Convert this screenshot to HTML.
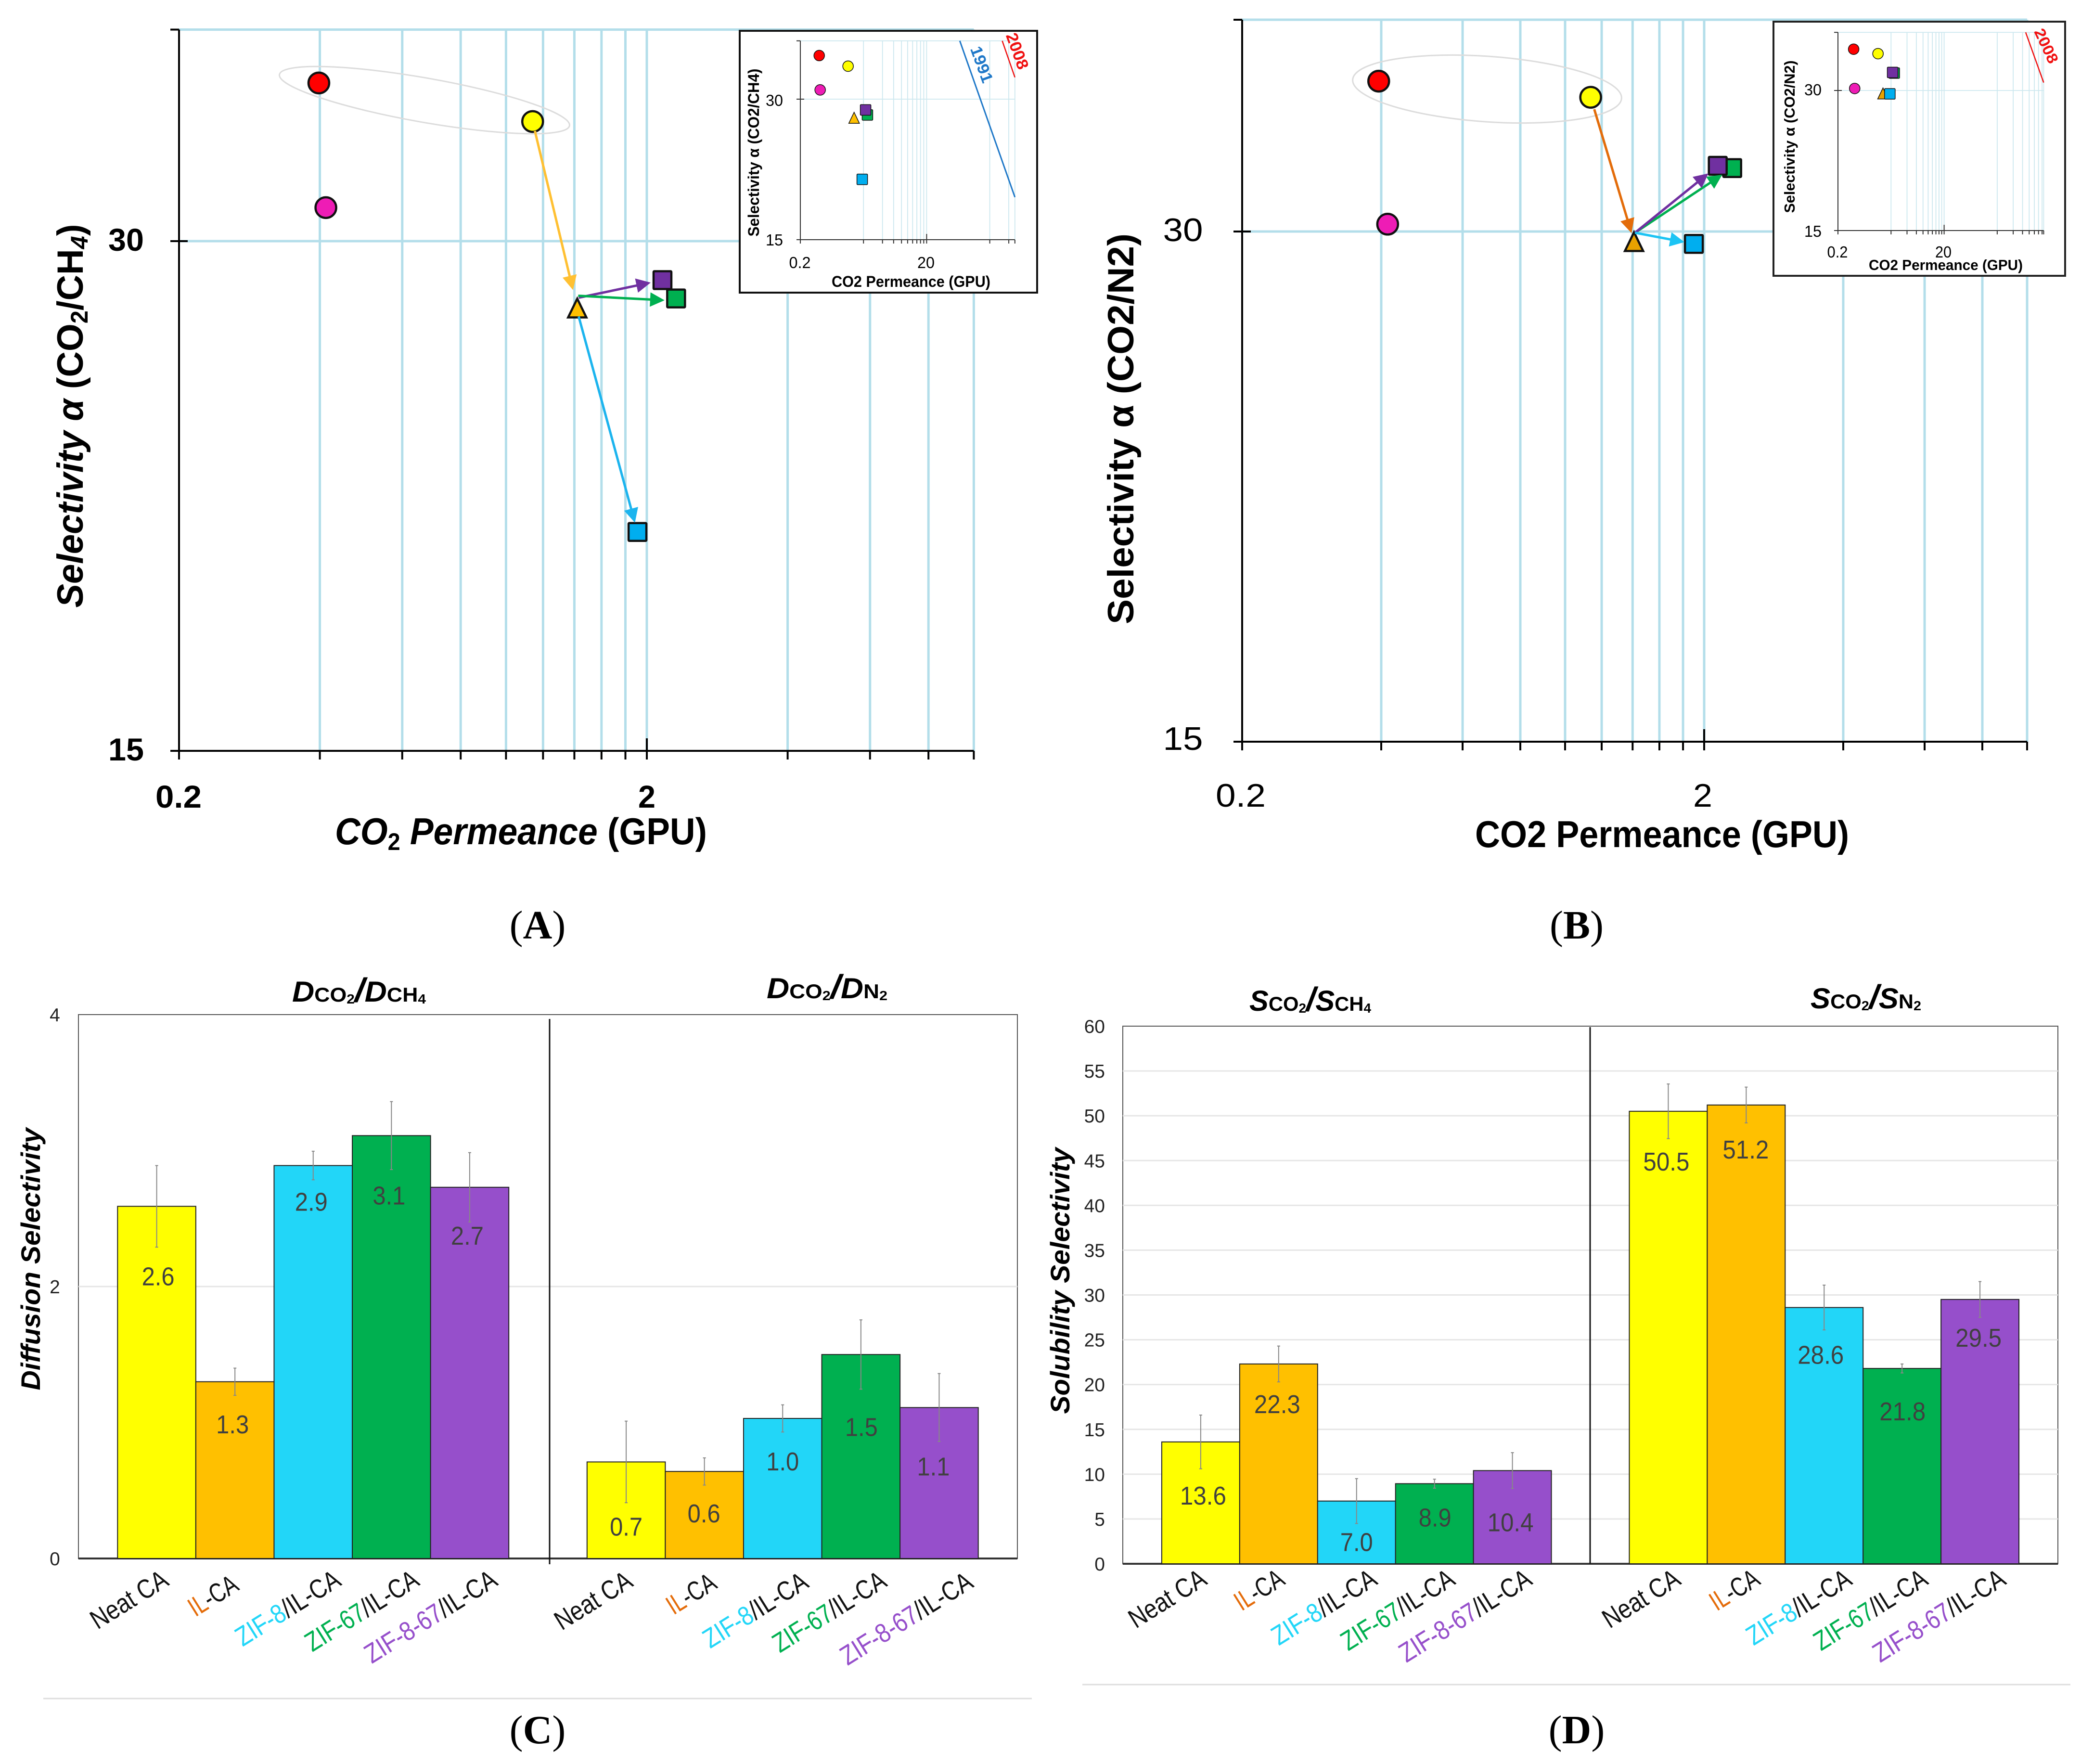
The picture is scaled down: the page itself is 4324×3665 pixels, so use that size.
<!DOCTYPE html>
<html lang="en">
<head>
<meta charset="utf-8">
<title>CO2 membrane selectivity charts</title>
<style>
html,body{margin:0;padding:0;background:#fff;width:4324px;height:3665px;overflow:hidden}
svg{display:block;font-family:"Liberation Sans",sans-serif}
.serif{font-family:"Liberation Serif",serif}
</style>
</head>
<body>
<svg id="fig" xmlns="http://www.w3.org/2000/svg" width="4324" height="3665" viewBox="0 0 4324 3665">
<rect width="4324" height="3665" fill="#fff"/>
<g id="mainA"></g>
<g id="mainB"></g>
<rect x="1537" y="64" width="618" height="544" fill="#fff" stroke="#111" stroke-width="4"/>
<rect x="3685" y="45" width="606" height="528" fill="#fff" stroke="#222" stroke-width="4"/>
<g id="insetA"></g>
<g id="insetB"></g>
<g id="barsC"></g>
<g id="barsD"></g>

<!-- Panel A text -->
<text transform="translate(172,864) rotate(-90)" text-anchor="middle" font-size="76" font-weight="bold" textLength="797" lengthAdjust="spacingAndGlyphs"><tspan font-style="italic">Selectivity α</tspan> (CO<tspan font-size="50" dy="10">2</tspan><tspan dy="-10">/CH</tspan><tspan font-size="50" font-style="italic" dy="10">4</tspan><tspan dy="-10">)</tspan></text>
<text x="696" y="1754" font-size="78" font-weight="bold" textLength="773" lengthAdjust="spacingAndGlyphs"><tspan font-style="italic">CO</tspan><tspan font-size="50" dy="12">2</tspan><tspan font-style="italic" dy="-12"> Permeance</tspan> (GPU)</text>
<text x="262" y="521" text-anchor="middle" font-size="66" font-weight="bold" textLength="74" lengthAdjust="spacingAndGlyphs">30</text>
<text x="262" y="1580" text-anchor="middle" font-size="66" font-weight="bold" textLength="74" lengthAdjust="spacingAndGlyphs">15</text>
<text x="371" y="1678" text-anchor="middle" font-size="66" font-weight="bold" textLength="96" lengthAdjust="spacingAndGlyphs">0.2</text>
<text x="1344" y="1678" text-anchor="middle" font-size="66" font-weight="bold" textLength="36" lengthAdjust="spacingAndGlyphs">2</text>
<text class="serif" x="1117" y="1950" text-anchor="middle" font-size="84">(<tspan font-weight="bold">A</tspan>)</text>

<!-- Panel B text -->
<text transform="translate(2355,891) rotate(-90)" text-anchor="middle" font-size="76" font-weight="bold" textLength="812" lengthAdjust="spacingAndGlyphs">Selectivity α (CO2/N2)</text>
<text x="3065" y="1760" font-size="78" font-weight="bold" textLength="777" lengthAdjust="spacingAndGlyphs">CO2 Permeance (GPU)</text>
<text x="2458" y="501" text-anchor="middle" font-size="68" textLength="83" lengthAdjust="spacingAndGlyphs">30</text>
<text x="2458" y="1558" text-anchor="middle" font-size="68" textLength="83" lengthAdjust="spacingAndGlyphs">15</text>
<text x="2578" y="1676" text-anchor="middle" font-size="68" textLength="104" lengthAdjust="spacingAndGlyphs">0.2</text>
<text x="3538" y="1676" text-anchor="middle" font-size="68" textLength="40" lengthAdjust="spacingAndGlyphs">2</text>
<text class="serif" x="3276" y="1950" text-anchor="middle" font-size="84">(<tspan font-weight="bold">B</tspan>)</text>

<!-- Inset A text -->
<text transform="translate(1577,317) rotate(-90)" text-anchor="middle" font-size="32" font-weight="bold" textLength="349" lengthAdjust="spacingAndGlyphs">Selectivity α (CO2/CH4)</text>
<text x="1728" y="596" font-size="32" font-weight="bold" textLength="330" lengthAdjust="spacingAndGlyphs">CO2 Permeance (GPU)</text>
<text x="1609" y="220" text-anchor="middle" font-size="33" textLength="36" lengthAdjust="spacingAndGlyphs">30</text>
<text x="1609" y="510" text-anchor="middle" font-size="33" textLength="36" lengthAdjust="spacingAndGlyphs">15</text>
<text x="1662" y="557" text-anchor="middle" font-size="33" textLength="45" lengthAdjust="spacingAndGlyphs">0.2</text>
<text x="1924" y="557" text-anchor="middle" font-size="33" textLength="36" lengthAdjust="spacingAndGlyphs">20</text>
<text transform="translate(2029,138) rotate(70)" text-anchor="middle" font-size="34" font-weight="bold" fill="#1f78c8" textLength="78" lengthAdjust="spacingAndGlyphs">1991</text>
<text transform="translate(2103,110) rotate(70)" text-anchor="middle" font-size="34" font-weight="bold" fill="#f01010" textLength="78" lengthAdjust="spacingAndGlyphs">2008</text>

<!-- Inset B text -->
<text transform="translate(3729,284) rotate(-90)" text-anchor="middle" font-size="31" font-weight="bold" textLength="317" lengthAdjust="spacingAndGlyphs">Selectivity α (CO2/N2)</text>
<text x="3883" y="561" font-size="31" font-weight="bold" textLength="320" lengthAdjust="spacingAndGlyphs">CO2 Permeance (GPU)</text>
<text x="3767" y="198" text-anchor="middle" font-size="33" textLength="36" lengthAdjust="spacingAndGlyphs">30</text>
<text x="3767" y="492" text-anchor="middle" font-size="33" textLength="36" lengthAdjust="spacingAndGlyphs">15</text>
<text x="3818" y="535" text-anchor="middle" font-size="33" textLength="43" lengthAdjust="spacingAndGlyphs">0.2</text>
<text x="4038" y="535" text-anchor="middle" font-size="33" textLength="34" lengthAdjust="spacingAndGlyphs">20</text>
<text transform="translate(4242,100) rotate(65)" text-anchor="middle" font-size="32" font-weight="bold" fill="#f01010" textLength="76" lengthAdjust="spacingAndGlyphs">2008</text>

<!-- Panel C text -->
<text transform="translate(83,2616) rotate(-90)" text-anchor="middle" font-size="56" font-weight="bold" font-style="italic" textLength="545" lengthAdjust="spacingAndGlyphs">Diffusion Selectivity</text>
<text x="607" y="2081" font-size="60" font-weight="bold" textLength="278" lengthAdjust="spacingAndGlyphs"><tspan font-style="italic">D</tspan><tspan font-size="42">CO</tspan><tspan font-size="28" dy="4">2</tspan><tspan font-style="italic" font-size="70" dy="-4">/</tspan><tspan font-style="italic">D</tspan><tspan font-size="42">CH</tspan><tspan font-size="28" dy="4">4</tspan></text>
<text x="1593" y="2074" font-size="60" font-weight="bold" textLength="251" lengthAdjust="spacingAndGlyphs"><tspan font-style="italic">D</tspan><tspan font-size="42">CO</tspan><tspan font-size="28" dy="4">2</tspan><tspan font-style="italic" font-size="70" dy="-4">/</tspan><tspan font-style="italic">D</tspan><tspan font-size="42">N</tspan><tspan font-size="28" dy="4">2</tspan></text>
<line x1="90" y1="3529" x2="2144" y2="3529" stroke="#dedede" stroke-width="3"/>
<text class="serif" x="1117" y="3622" text-anchor="middle" font-size="84">(<tspan font-weight="bold">C</tspan>)</text>

<!-- Panel D text -->
<text transform="translate(2222,2661) rotate(-90)" text-anchor="middle" font-size="56" font-weight="bold" font-style="italic" textLength="553" lengthAdjust="spacingAndGlyphs">Solubility Selectivity</text>
<text x="2596" y="2100" font-size="60" font-weight="bold" textLength="253" lengthAdjust="spacingAndGlyphs"><tspan font-style="italic">S</tspan><tspan font-size="42">CO</tspan><tspan font-size="28" dy="4">2</tspan><tspan font-style="italic" font-size="70" dy="-4">/</tspan><tspan font-style="italic">S</tspan><tspan font-size="42">CH</tspan><tspan font-size="28" dy="4">4</tspan></text>
<text x="3762" y="2095" font-size="60" font-weight="bold" textLength="230" lengthAdjust="spacingAndGlyphs"><tspan font-style="italic">S</tspan><tspan font-size="42">CO</tspan><tspan font-size="28" dy="4">2</tspan><tspan font-style="italic" font-size="70" dy="-4">/</tspan><tspan font-style="italic">S</tspan><tspan font-size="42">N</tspan><tspan font-size="28" dy="4">2</tspan></text>
<line x1="2249" y1="3500" x2="4302" y2="3500" stroke="#dedede" stroke-width="3"/>
<text class="serif" x="3276" y="3622" text-anchor="middle" font-size="84">(<tspan font-weight="bold">D</tspan>)</text>
</svg>

<script>
// ---------- Scatter data (order: neat red, neat yellow, neat magenta, IL-CA triangle, ZIF-8 blue, ZIF-67 green, ZIF-8-67 purple)
const pointNames = ['red', 'yellow', 'magenta', 'il-ca', 'zif-8', 'zif-67', 'zif-8-67'];
const permeanceCH4 = [0.398, 1.14, 0.412, 1.42, 1.91, 2.31, 2.16];
const selectivityCH4 = [37.2, 35.3, 31.4, 27.4, 20.2, 27.75, 28.45];
const permeanceN2 = [0.395, 1.136, 0.413, 1.41, 1.90, 2.30, 2.14];
const selectivityN2 = [36.8, 36.0, 30.3, 29.6, 29.5, 32.7, 32.8];
const mainGridX = [0.4, 0.6, 0.8, 1, 1.2, 1.4, 1.6, 1.8, 2, 4, 6, 8, 10];
const insetAGridX = [2, 4, 6, 8, 10, 12, 14, 16, 18, 20, 200, 400, 500];
const insetBGridX = [2, 4, 6, 8, 10, 12, 14, 16, 18, 20, 200, 400, 600, 800, 1000, 1200, 1400, 1500];
const gridY = [40, 30];
const line1991X = [67, 500];
const line1991Y = [40, 18.5];
const line2008AX = [315, 500];
const line2008AY = [40, 33.4];
const line2008BX = [687, 1500];
const line2008BY = [40, 31.2];

// ---------- Bar data
const categories = ['Neat CA', 'IL-CA', 'ZIF-8/IL-CA', 'ZIF-67/IL-CA', 'ZIF-8-67/IL-CA'];
const categoryPrefix = ['', 'IL', 'ZIF-8', 'ZIF-67', 'ZIF-8-67'];
const diffusionValues = [2.59, 1.30, 2.89, 3.11, 2.73, 0.71, 0.64, 1.03, 1.50, 1.11];
const diffusionErrors = [0.30, 0.10, 0.105, 0.25, 0.255, 0.30, 0.10, 0.10, 0.255, 0.25];
const diffusionTicks = [0, 2, 4];
const solubilityValues = [13.6, 22.3, 7.0, 8.94, 10.4, 50.5, 51.2, 28.6, 21.8, 29.5];
const solubilityErrors = [3.0, 2.0, 2.5, 0.5, 2.0, 3.05, 2.0, 2.5, 0.5, 2.0];
const solubilityTicks = [0, 5, 10, 15, 20, 25, 30, 35, 40, 45, 50, 55, 60];

// ---------- Layout / style
const NS = 'http://www.w3.org/2000/svg';
const BAR_FILL = ['#FFFF00', '#FFC000', '#22D6F8', '#00B050', '#964FCB'];
const CAT_COLOR = ['#111', '#E46C0A', '#22D6F8', '#00B050', '#964FCB'];
const CAT_LEN = [178, 110, 245, 266, 312];
const MARK_FILL_A = ['#FF0000', '#FFFF00', '#EE1CB5', '#FFC000', '#00AEEF', '#00B050', '#7030A0'];
const MARK_FILL_B = ['#FF0000', '#FFFF00', '#EE1CB5', '#E8A200', '#00AEEF', '#00B050', '#7030A0'];
const GRID = '#B3DEEA';

function mk(parent, tag, attrs) {
  const el = document.createElementNS(NS, tag);
  for (const k in attrs) el.setAttribute(k, attrs[k]);
  parent.appendChild(el);
  return el;
}
function scaleX(p, v) { return p.x02 + p.xDec * Math.log10(v / 0.2); }
function scaleY(p, v) { return p.y15 - p.yOct * Math.log2(v / 15); }

const mainAAxes = { x02: 372, xDec: 972, y15: 1560, yOct: 1059, xMax: 10, gridW: 5, tickLen: 18, axisW: 4, bigTick: 26, r: 21.5, sq: 37, mw: 4.5, tri: 19, axisCol: '#000', grid: GRID };
const mainBAxes = { x02: 2581, xDec: 960, y15: 1541, yOct: 1060, xMax: 10, gridW: 5, tickLen: 18, axisW: 4, bigTick: 26, r: 21.5, sq: 37, mw: 4.5, tri: 19, axisCol: '#000', grid: GRID };
const insetAAxes = { x02: 1663, xDec: 131.2, y15: 498, yOct: 292, xMax: 500, gridW: 1.8, tickLen: 8, axisW: 2, bigTick: 12, r: 11, sq: 22, mw: 1.5, tri: 11, axisCol: '#333', grid: '#CDE8EF' };
const insetBAxes = { x02: 3819, xDec: 110.3, y15: 479, yOct: 291, xMax: 1500, gridW: 1.8, tickLen: 8, axisW: 2, bigTick: 12, r: 11, sq: 22, mw: 1.5, tri: 11, axisCol: '#333', grid: '#CDE8EF' };

function drawFrame(root, p, gridX) {
  const left = scaleX(p, 0.2), right = scaleX(p, p.xMax), bottom = scaleY(p, 15);
  gridY.forEach(function (v) {
    const y = scaleY(p, v);
    const g = mk(root, 'line', { x1: left, x2: right, y1: y, y2: y, stroke: p.grid, 'stroke-width': p.gridW });
    
    
  });
  gridX.forEach(function (v) {
    const x = scaleX(p, v);
    const g = mk(root, 'line', { x1: x, x2: x, y1: scaleY(p, 40), y2: bottom, stroke: p.grid, 'stroke-width': p.gridW });
    
    
    const isMajor = v === 2 && p.xMax === 10 || v === 20 && p.xMax > 10;
    const t = mk(root, 'line', { x1: x, x2: x, y1: isMajor ? bottom - p.bigTick : bottom, y2: bottom + p.tickLen, stroke: p.axisCol, 'stroke-width': p.axisW });
    
    
  });
  const xa = mk(root, 'line', { x1: left - p.tickLen, x2: right, y1: bottom, y2: bottom, stroke: p.axisCol, 'stroke-width': p.axisW });
  
  
  const ya = mk(root, 'line', { x1: left, x2: left, y1: scaleY(p, 40), y2: bottom + p.tickLen, stroke: p.axisCol, 'stroke-width': p.axisW });
  
  
  const t40 = mk(root, 'line', { x1: left - p.tickLen, x2: left, y1: scaleY(p, 40), y2: scaleY(p, 40), stroke: p.axisCol, 'stroke-width': p.axisW });
  
  
  const t30 = mk(root, 'line', { x1: left - p.tickLen, x2: left + p.tickLen, y1: scaleY(p, 30), y2: scaleY(p, 30), stroke: p.axisCol, 'stroke-width': p.axisW });
  
  
}

function drawMarkers(root, p, xs, ys, fills) {
  [0, 1, 2, 3, 4, 5, 6].forEach(function (i) {
    const cx = scaleX(p, xs[i]), cy = scaleY(p, ys[i]);
    let el;
    if (i < 3) {
      el = mk(root, 'circle', { cx: cx, cy: cy, r: p.r });
    } else if (i === 3) {
      el = mk(root, 'polygon', { points: cx + ',' + (cy - p.tri) + ' ' + (cx + p.tri) + ',' + (cy + p.tri + 1) + ' ' + (cx - p.tri) + ',' + (cy + p.tri + 1) });
    } else {
      el = mk(root, 'rect', { x: cx - p.sq / 2, y: cy - p.sq / 2, width: p.sq, height: p.sq, rx: 1.5 });
    }
    el.setAttribute('fill', fills[i]);
    el.setAttribute('stroke', '#111');
    el.setAttribute('stroke-width', p.mw);
    
    
  });
}

function drawArrow(root, p, xs, ys, from, to, color, startOff, endOff, trimStart, trimEnd, name) {
  let x1 = scaleX(p, xs[from]) + startOff[0], y1 = scaleY(p, ys[from]) + startOff[1];
  const cx = scaleX(p, xs[to]) + endOff[0], cy = scaleY(p, ys[to]) + endOff[1];
  let dx = cx - x1, dy = cy - y1, d = Math.hypot(dx, dy);
  dx /= d; dy /= d;
  x1 += dx * trimStart; y1 += dy * trimStart;
  const x2 = cx - dx * trimEnd, y2 = cy - dy * trimEnd;
  const hl = 30, hw = 15;
  const g = mk(root, 'g', {});
  
  
  mk(g, 'line', { x1: x1, y1: y1, x2: x2 - dx * hl * 0.7, y2: y2 - dy * hl * 0.7, stroke: color, 'stroke-width': 5 });
  const bx = x2 - dx * hl, by = y2 - dy * hl;
  mk(g, 'polygon', { points: x2 + ',' + y2 + ' ' + (bx - dy * hw) + ',' + (by + dx * hw) + ' ' + (bx + dy * hw) + ',' + (by - dx * hw), fill: color });
}

function drawLimit(root, p, xs, ys, color, width, name) {
  const l = mk(root, 'line', { x1: scaleX(p, xs[0]), y1: scaleY(p, ys[0]), x2: scaleX(p, xs[1]), y2: scaleY(p, ys[1]), stroke: color, 'stroke-width': width });
  
  
}

// Panel A
(function () {
  const root = document.getElementById('mainA');
  drawFrame(root, mainAAxes, mainGridX);
  const e = mk(root, 'ellipse', { cx: 882, cy: 208, rx: 306, ry: 46, transform: 'rotate(10 882 208)', fill: 'none', stroke: '#dcdcdc', 'stroke-width': 3 });
  
  
  drawMarkers(root, mainAAxes, permeanceCH4, selectivityCH4, MARK_FILL_A);
  drawArrow(root, mainAAxes, permeanceCH4, selectivityCH4, 1, 3, '#FFC032', [0, 0], [0, 0], 20, 38, 'arrow-to-il-ca');
  drawArrow(root, mainAAxes, permeanceCH4, selectivityCH4, 3, 6, '#7030A0', [3, -21], [0, 0], 0, 25, 'arrow-to-zif-8-67');
  drawArrow(root, mainAAxes, permeanceCH4, selectivityCH4, 3, 5, '#00B050', [2, -25], [0, 5], 0, 24, 'arrow-to-zif-67');
  drawArrow(root, mainAAxes, permeanceCH4, selectivityCH4, 3, 4, '#1CB4EE', [3, 18], [0, 0], 0, 20, 'arrow-to-zif-8');
})();

// Panel B
(function () {
  const root = document.getElementById('mainB');
  drawFrame(root, mainBAxes, mainGridX);
  const e = mk(root, 'ellipse', { cx: 3090, cy: 185, rx: 280, ry: 68, transform: 'rotate(4 3090 185)', fill: 'none', stroke: '#dcdcdc', 'stroke-width': 3 });
  
  
  drawMarkers(root, mainBAxes, permeanceN2, selectivityN2, MARK_FILL_B);
  drawArrow(root, mainBAxes, permeanceN2, selectivityN2, 1, 3, '#E36C0A', [0, 0], [0, 0], 26, 18, 'arrow-to-il-ca');
  drawArrow(root, mainBAxes, permeanceN2, selectivityN2, 3, 5, '#00B050', [2, -18], [0, 0], 0, 25, 'arrow-to-zif-67');
  drawArrow(root, mainBAxes, permeanceN2, selectivityN2, 3, 6, '#7030A0', [2, -18], [0, 0], 0, 25, 'arrow-to-zif-8-67');
  drawArrow(root, mainBAxes, permeanceN2, selectivityN2, 3, 4, '#1CC4F4', [2, -18], [0, 0], 0, 20, 'arrow-to-zif-8');
})();

// Insets
(function () {
  const a = document.getElementById('insetA');
  drawFrame(a, insetAAxes, insetAGridX);
  drawLimit(a, insetAAxes, line1991X, line1991Y, '#1F78C8', 3, 'robeson-1991-line');
  drawLimit(a, insetAAxes, line2008AX, line2008AY, '#F01010', 2.5, 'robeson-2008-line');
  drawMarkers(a, insetAAxes, permeanceCH4, selectivityCH4, MARK_FILL_A);
  const b = document.getElementById('insetB');
  drawFrame(b, insetBAxes, insetBGridX);
  drawLimit(b, insetBAxes, line2008BX, line2008BY, '#F01010', 2.5, 'robeson-2008-line');
  drawMarkers(b, insetBAxes, permeanceN2, selectivityN2, MARK_FILL_B);
})();

// Bars
function drawBars(root, cfg, values, errors, ticks) {
  const slot = (cfg.right - cfg.left) / 12;
  const yAt = function (v) { return cfg.bottom - (cfg.bottom - cfg.top) * v / cfg.max; };
  const border = mk(root, 'rect', { x: cfg.left, y: cfg.top, width: cfg.right - cfg.left, height: cfg.bottom - cfg.top, fill: '#fff', stroke: '#555', 'stroke-width': 2 });
  
  
  ticks.forEach(function (t) {
    const y = yAt(t);
    if (t > 0 && t < cfg.max) {
      const g = mk(root, 'line', { x1: cfg.left, x2: cfg.right, y1: y, y2: y, stroke: '#E6E6E6', 'stroke-width': 3 });
      
      
    }
    const lab = mk(root, 'text', { x: cfg.tickX, y: y + 14, 'text-anchor': cfg.tickAnchor, 'font-size': 39, fill: '#222' });
    lab.textContent = String(t);
    
    
  });
  const base = mk(root, 'line', { x1: cfg.left, x2: cfg.right, y1: cfg.bottom, y2: cfg.bottom, stroke: '#333', 'stroke-width': 4 });
  
  
  const div = mk(root, 'line', { x1: cfg.divX, x2: cfg.divX, y1: cfg.divTop, y2: cfg.divBottom, stroke: '#111', 'stroke-width': 3 });
  
  

  values.forEach(function (v, i) {
    const k = i % 5;
    const center = cfg.left + slot * (i < 5 ? i + 1 : i + 2);
    const top = yAt(v);
    const bar = mk(root, 'rect', { x: center - slot / 2, y: top, width: slot, height: cfg.bottom - top, fill: BAR_FILL[k], stroke: '#222', 'stroke-width': 2 });
    
    
  });
  values.forEach(function (v, i) {
    const k = i % 5;
    const center = cfg.left + slot * (i < 5 ? i + 1 : i + 2);
    const top = yAt(v);
    const eTop = yAt(v + errors[i]), eBot = yAt(v - errors[i]);
    const err = mk(root, 'path', { d: 'M' + center + ' ' + eTop + 'V' + eBot + 'M' + (center - 3) + ' ' + eTop + 'h6M' + (center - 3) + ' ' + eBot + 'h6', stroke: '#888', 'stroke-width': 2, fill: 'none' });
    
    
    const s = v.toFixed(1);
    const val = mk(root, 'text', { x: center + cfg.labelDx[i], y: top + cfg.labelDrop[i] + 16, 'text-anchor': 'middle', 'font-size': 54, fill: '#404040', textLength: s.length > 3 ? 96 : 68, lengthAdjust: 'spacingAndGlyphs' });
    val.textContent = s;
    
    
    const cat = mk(root, 'text', { transform: 'translate(' + (center + cfg.catDx[i]) + ',' + (cfg.catY + cfg.catDy[i]) + ') rotate(-32)', 'text-anchor': 'end', 'font-size': 56, fill: '#111', textLength: CAT_LEN[k], lengthAdjust: 'spacingAndGlyphs' });
    
    
    const pre = categoryPrefix[k];
    if (pre) {
      const ts = mk(cat, 'tspan', { fill: CAT_COLOR[k] });
      ts.textContent = pre;
    }
    const rest = mk(cat, 'tspan', {});
    rest.textContent = categories[k].slice(pre.length);
  });
}

drawBars(document.getElementById('barsC'), {
  left: 163, right: 2114, top: 2108, bottom: 3238, max: 4,
  tickX: 114, tickAnchor: 'middle', divX: 1142, divTop: 2117, divBottom: 3250, catY: 3292,
  labelDrop: [148, 91, 78, 127, 103, 137, 90, 92, 153, 125],
  labelDx: [3, -5, -4, -5, -5, 0, -1, 0, 1, -12],
  catDx: [28, 11, 61, 61, 61, 17, 29, 57, 57, 74],
  catDy: [0, 10, 0, 0, 0, 2, 6, 4, 2, 4]
}, diffusionValues, diffusionErrors, diffusionTicks);

drawBars(document.getElementById('barsD'), {
  left: 2333, right: 4276, top: 2132, bottom: 3249, max: 60,
  tickX: 2296, tickAnchor: 'end', divX: 3304, divTop: 2134, divBottom: 3249, catY: 3290,
  labelDrop: [114, 86, 88, 73, 110, 107, 95, 101, 92, 82],
  labelDx: [5, -3, 0, 1, -4, -4, -1, -7, 1, -3],
  catDx: [16, 16, 46, 46, 44, 29, 32, 61, 57, 57],
  catDy: [0, 0, 0, 0, 0, 0, 0, 0, 0, 0]
}, solubilityValues, solubilityErrors, solubilityTicks);
</script>
</body>
</html>
